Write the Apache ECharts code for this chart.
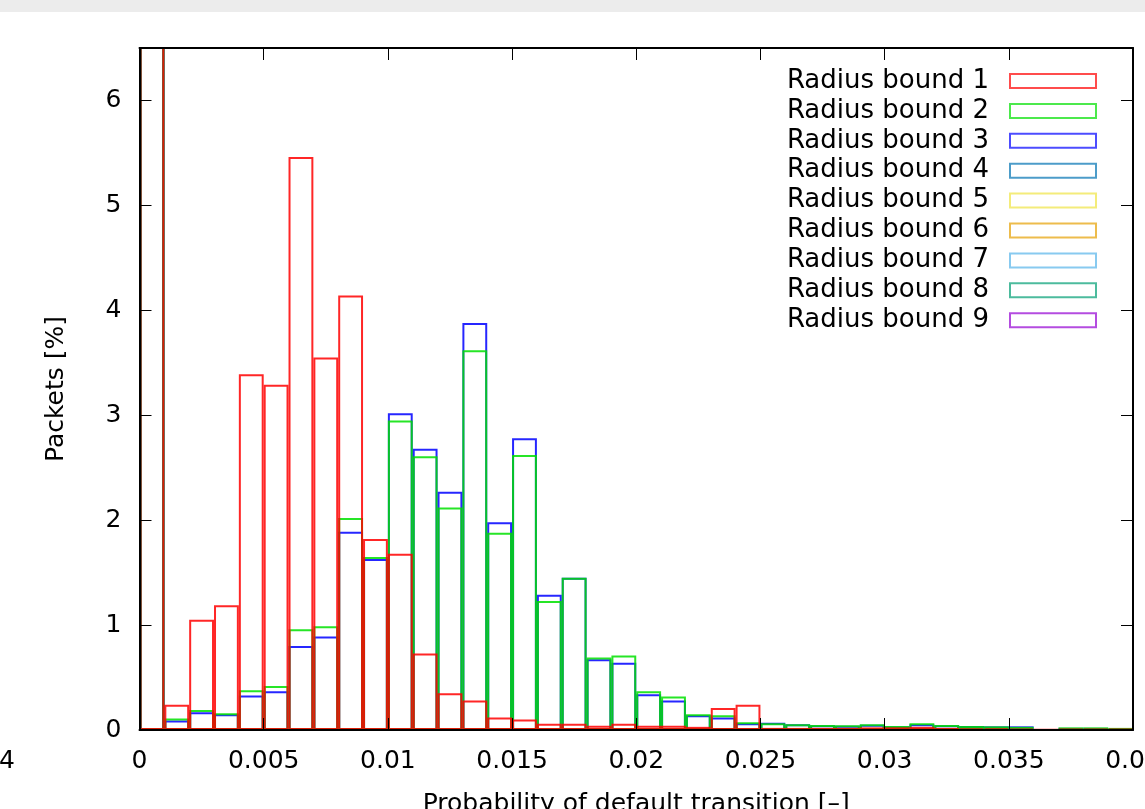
<!DOCTYPE html>
<html><head><meta charset="utf-8">
<script src="https://cdn.jsdelivr.net/npm/echarts@6/dist/echarts.min.js"></script>
<style>html,body{margin:0;padding:0;background:#fff}#c{width:1145px;height:809px}</style>
</head><body><div id="c"></div>
<script>
// Histogram bins (start of each 0.001-wide bin)
const bins = ['0.000','0.001','0.002','0.003','0.004','0.005','0.006','0.007','0.008','0.009',
  '0.010','0.011','0.012','0.013','0.014','0.015','0.016','0.017','0.018','0.019',
  '0.020','0.021','0.022','0.023','0.024','0.025','0.026','0.027','0.028','0.029',
  '0.030','0.031','0.032','0.033','0.034','0.035','0.036','0.037','0.038','0.039'];

const seriesNames = ['Radius bound 1','Radius bound 2','Radius bound 3','Radius bound 4','Radius bound 5',
  'Radius bound 6','Radius bound 7','Radius bound 8','Radius bound 9'];
const seriesColors = ['#ff0000','#00e000','#0000ff','#0072b2','#f0e442','#e69f00','#56b4e9','#009e73','#9400d3'];

const bound1 = [72.0,0.24,1.05,1.19,3.39,3.29,5.46,3.55,4.14,1.82,
  1.68,0.73,0.35,0.28,0.12,0.10,0.06,0.06,0.04,0.06,
  0.04,0.04,0.03,0.21,0.24,0.02,0.02,0.02,0.02,0.025,
  0.025,0.03,0.02,0.015,0.015,0.01,0.005,0.01,0.01,0.01];
const bound2 = [71.5,0.11,0.19,0.16,0.38,0.42,0.96,0.99,2.02,1.65,
  2.95,2.61,2.12,3.62,1.88,2.62,1.23,1.45,0.69,0.71,
  0.37,0.32,0.15,0.14,0.075,0.065,0.055,0.048,0.045,0.055,
  0.038,0.065,0.048,0.038,0.035,0.03,0,0.025,0.025,0.02];
const bound3 = [71.3,0.09,0.17,0.15,0.33,0.37,0.80,0.89,1.89,1.63,
  3.02,2.68,2.27,3.88,1.98,2.78,1.29,1.45,0.675,0.64,
  0.34,0.28,0.14,0.12,0.065,0.07,0.055,0.045,0.04,0.05,
  0.035,0.055,0.045,0.038,0.035,0.035,0,0.02,0.02,0.015];
const bound4 = [78.0,0,0,0,0,0,0,0,0,0, 0,0,0,0,0,0,0,0,0,0, 0,0,0,0,0,0,0,0,0,0, 0,0,0,0,0,0,0,0,0,0];
const bound5 = [80.0,0,0,0,0,0,0,0,0,0, 0,0,0,0,0,0,0,0,0,0, 0,0,0,0,0,0,0,0,0,0, 0,0,0,0,0,0,0,0,0,0];
const bound6 = [82.0,0,0,0,0,0,0,0,0,0, 0,0,0,0,0,0,0,0,0,0, 0,0,0,0,0,0,0,0,0,0, 0,0,0,0,0,0,0,0,0,0];
const bound7 = [84.0,0,0,0,0,0,0,0,0,0, 0,0,0,0,0,0,0,0,0,0, 0,0,0,0,0,0,0,0,0,0, 0,0,0,0,0,0,0,0,0,0];
const bound8 = [86.0,0,0,0,0,0,0,0,0,0, 0,0,0,0,0,0,0,0,0,0, 0,0,0,0,0,0,0,0,0,0, 0,0,0,0,0,0,0,0,0,0];
const bound9 = [88.0,0,0,0,0,0,0,0,0,0, 0,0,0,0,0,0,0,0,0,0, 0,0,0,0,0,0,0,0,0,0, 0,0,0,0,0,0,0,0,0,0];
const allData = [bound1,bound2,bound3,bound4,bound5,bound6,bound7,bound8,bound9];

const FONT = 'DejaVu Sans';
function rgba(hex, a){const n=parseInt(hex.slice(1),16);return 'rgba('+(n>>16)+','+((n>>8)&255)+','+(n&255)+','+a+')';}

// draw 9 first ... 1 last (on top)
const series = [];
for (let i = allData.length - 1; i >= 0; i--) {
  series.push({
    type: 'bar', name: seriesNames[i], xAxisIndex: 0, yAxisIndex: 0,
    data: allData[i].map(v => v === 0 ? '-' : v),
    barWidth: '100%', barGap: '-100%', clip: true,
    itemStyle: {color: 'rgba(0,0,0,0)', borderColor: rgba(seriesColors[i], 0.85), borderWidth: 2},
    emphasis: {disabled: true}, silent: true
  });
}

const axisBase = {
  axisLine: {show: true, onZero: false, lineStyle: {color: '#000', width: 2}},
  axisTick: {show: true, inside: true, length: 12, lineStyle: {color: '#000', width: 1}},
  splitLine: {show: false}, z: 10
};

const chart = echarts.init(document.getElementById('c'), null, {renderer: 'canvas'});
chart.setOption({
  animation: false,
  backgroundColor: '#fff',
  graphic: [
    {type: 'rect', shape: {x: 0, y: 0, width: 1145, height: 12}, style: {fill: '#ececec'}},
    {type: 'text', x: -1, y: 761, style: {text: '4', fontSize: 25, fontFamily: FONT, fill: '#000', verticalAlign: 'middle'}}
  ],
  grid: {left: 139.5, right: 12, top: 48, bottom: 79, containLabel: false, outerBoundsMode: 'none'},
  legend: {
    orient: 'vertical', right: 48, top: 68, align: 'right', padding: 0,
    itemWidth: 86, itemHeight: 14, itemGap: 3.9, icon: 'rect', selectedMode: false,
    textStyle: {fontFamily: FONT, fontSize: 26, color: '#000', lineHeight: 26, padding: [0, 16, 0, 0]},
    data: seriesNames.map((n, i) => ({name: n, itemStyle: {color: 'rgba(0,0,0,0)', borderColor: rgba(seriesColors[i], 0.7), borderWidth: 2}}))
  },
  xAxis: [
    {type: 'category', data: bins, show: false, boundaryGap: true, position: 'bottom'},
    Object.assign({}, axisBase, {
      type: 'value', min: 0, max: 0.04, interval: 0.005, position: 'bottom',
      axisLabel: {margin: 19, fontSize: 25, fontFamily: FONT, color: '#000'},
      name: 'Probability of default transition [–]', nameLocation: 'middle', nameGap: 62,
      nameTextStyle: {fontSize: 25, fontFamily: FONT, color: '#000'}
    }),
    Object.assign({}, axisBase, {
      type: 'value', min: 0, max: 0.04, interval: 0.005, position: 'top', axisLabel: {show: false}
    })
  ],
  yAxis: [
    Object.assign({}, axisBase, {
      type: 'value', min: 0, max: 6.5, interval: 1, position: 'left',
      axisLabel: {margin: 18, fontSize: 25, fontFamily: FONT, color: '#000', showMaxLabel: false},
      name: 'Packets [%]', nameLocation: 'middle', nameGap: 71, nameRotate: 90,
      nameTextStyle: {fontSize: 25, fontFamily: FONT, color: '#000'}
    }),
    Object.assign({}, axisBase, {
      type: 'value', min: 0, max: 6.5, interval: 1, position: 'right', axisLabel: {show: false}
    })
  ],
  series: series
});
</script>
</body></html>
